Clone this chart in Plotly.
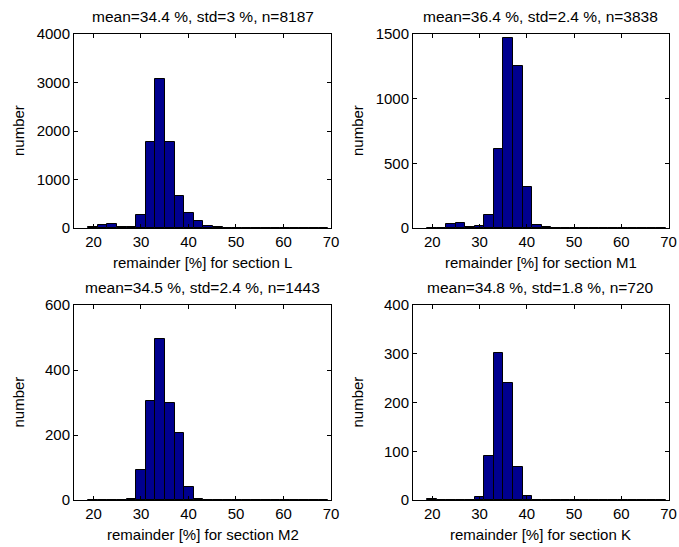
import plotly.graph_objects as go

# bin centers (percent)
bin_centers = [19.91, 21.93, 23.95, 25.97, 27.99, 30.01, 32.03, 34.05, 36.07, 38.09,
               40.11, 42.13, 44.15, 46.17, 48.19, 50.21, 52.23, 54.25, 56.27, 58.29,
               60.31, 62.33, 64.35, 66.37, 68.39]
bin_width = 2.02

counts_L = [12, 58, 75, 25, 14, 267, 1770, 3063, 1770, 650, 308, 140, 35, 20, 8,
            3, 2, 1, 1, 1, 1, 0, 0, 0, 1]
counts_M1 = [1, 2, 28, 36, 10, 12, 97, 610, 1467, 1249, 320, 20, 4, 1, 0,
             0, 0, 0, 0, 0, 0, 0, 0, 0, 0]
counts_M2 = [0, 0, 0, 1, 4, 92, 304, 494, 300, 205, 39, 3, 0, 1, 0,
             0, 0, 0, 0, 0, 0, 0, 0, 0, 0]
counts_K = [2, 0, 0, 1, 0, 7, 90, 302, 241, 68, 8, 1, 0, 0, 0,
            0, 0, 0, 0, 0, 0, 0, 0, 0, 0]

titles = ["mean=34.4 %, std=3 %, n=8187", "mean=36.4 %, std=2.4 %, n=3838",
          "mean=34.5 %, std=2.4 %, n=1443", "mean=34.8 %, std=1.8 %, n=720"]
xlabels = ["remainder [%] for section L", "remainder [%] for section M1",
           "remainder [%] for section M2", "remainder [%] for section K"]
y_ranges = [[0, 4000], [0, 1500], [0, 600], [0, 400]]
y_ticks = [[0, 1000, 2000, 3000, 4000], [0, 500, 1000, 1500],
           [0, 200, 400, 600], [0, 100, 200, 300, 400]]
x_ticks = [20, 30, 40, 50, 60, 70]
x_range = [15.9, 70]

W, H = 679, 547
FONT = "Liberation Sans, Arial, sans-serif"
FS_TICK = 15
FS_TITLE = 15.5
FS_LABEL = 15
bar_color = "rgb(0,0,143)"

# pixel boxes: (left, right, top, bottom)
boxes = [(74, 331, 34, 228), (413, 668.5, 34, 228),
         (74, 331, 305, 500), (413, 668.5, 305, 500)]

fig = go.Figure()
all_counts = [counts_L, counts_M1, counts_M2, counts_K]
annotations = []
for i, (cnt, box) in enumerate(zip(all_counts, boxes)):
    n = i + 1
    xa = "x" if n == 1 else f"x{n}"
    ya = "y" if n == 1 else f"y{n}"
    fig.add_trace(go.Bar(x=bin_centers, y=cnt, width=bin_width,
                         marker=dict(color=bar_color, line=dict(color="black", width=1)),
                         xaxis=xa, yaxis=ya, showlegend=False, hoverinfo="x+y"))
    l, r, t, b = box
    axkw = dict(showline=True, linecolor="black", linewidth=1, mirror="allticks",
                ticks="inside", ticklen=4, tickcolor="black", showgrid=False,
                zeroline=False, automargin=False,
                tickfont=dict(family=FONT, size=FS_TICK, color="black"))
    fig.layout[f"xaxis{'' if n == 1 else n}"] = dict(
        domain=[l / W, r / W], anchor=ya, range=x_range, tickvals=x_ticks, **axkw)
    fig.layout[f"yaxis{'' if n == 1 else n}"] = dict(
        domain=[1 - b / H, 1 - t / H], anchor=xa, range=y_ranges[i],
        tickvals=y_ticks[i], **axkw)
    cx = (l + r) / 2
    annotations.append(dict(text=titles[i], x=cx / W, y=1 - (t - 18) / H,
                            xref="paper", yref="paper", showarrow=False,
                            xanchor="center", yanchor="middle",
                            font=dict(family=FONT, size=FS_TITLE, color="black")))
    annotations.append(dict(text=xlabels[i], x=cx / W, y=1 - (b + 34) / H,
                            xref="paper", yref="paper", showarrow=False,
                            xanchor="center", yanchor="middle",
                            font=dict(family=FONT, size=FS_LABEL, color="black")))
    annotations.append(dict(text="number", x=(l - 56) / W, y=1 - ((t + b) / 2) / H,
                            xref="paper", yref="paper", showarrow=False, textangle=-90,
                            xanchor="center", yanchor="middle",
                            font=dict(family=FONT, size=FS_LABEL, color="black")))

fig.update_layout(width=W, height=H,
                  margin=dict(l=0, r=0, t=0, b=0, pad=0, autoexpand=False),
                  paper_bgcolor="white", plot_bgcolor="white",
                  annotations=annotations, bargap=0)
fig.write_html("out.html", config={"displayModeBar": False},
               post_script="document.body.style.margin='0';"
                           "document.body.style.overflow='hidden';")
